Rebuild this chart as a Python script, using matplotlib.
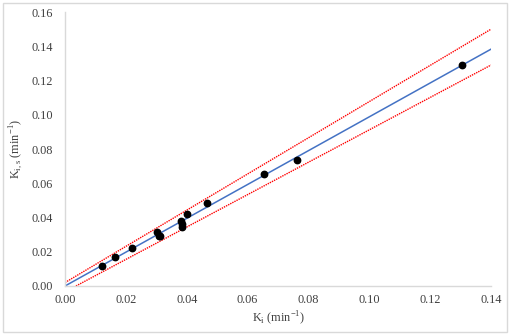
import numpy as np
import matplotlib
matplotlib.use("Agg")
import matplotlib.pyplot as plt
from matplotlib.patches import Rectangle

plt.rcParams['font.family'] = ['Liberation Serif', 'DejaVu Serif']
plt.rcParams['mathtext.fontset'] = 'custom'
plt.rcParams['mathtext.rm'] = 'Liberation Serif'

# measured vs. simulated rate constants
k_i = [0.0121, 0.0164, 0.0221, 0.0301, 0.0309, 0.0313, 0.0380, 0.0383,
       0.0383, 0.0402, 0.0465, 0.0655, 0.0763, 0.1306]
k_is = [0.0117, 0.0168, 0.0220, 0.0315, 0.0294, 0.0292, 0.0380, 0.0360,
        0.0346, 0.0420, 0.0486, 0.0656, 0.0734, 0.1289]

# fitted line and the two bounds (slope, intercept)
fit = (0.988, 0.0)
upper = (1.057, 0.002)
lower = (0.946, -0.0034)

x_ticks = [0.00, 0.02, 0.04, 0.06, 0.08, 0.10, 0.12, 0.14]
y_ticks = [0.00, 0.02, 0.04, 0.06, 0.08, 0.10, 0.12, 0.14, 0.16]

fig = plt.figure(figsize=(5.1, 3.35), dpi=100)
ax = fig.add_axes([0.1275, 0.1463, 0.8352, 0.8177])

xx = np.array([0.0, 0.14])
ax.plot(xx, fit[0] * xx + fit[1], color="#4472C4", linewidth=1.1, zorder=2)
ax.plot(xx, upper[0] * xx + upper[1], color="#FF0000", linewidth=1.0,
        linestyle=(0, (1.0, 0.7)), zorder=2)
x0 = -lower[1] / lower[0]
xl = np.array([x0, 0.14])
ax.plot(xl, lower[0] * xl + lower[1], color="#FF0000", linewidth=1.0,
        linestyle=(0, (1.0, 0.7)), zorder=2)

ax.plot(k_i, k_is, 'o', color="black", markersize=4.6, zorder=3)

ax.set_xlim(0, 0.14)
ax.set_ylim(0, 0.16)
ax.set_xticks(x_ticks)
ax.set_yticks(y_ticks)
ax.set_xticklabels(["%.2f" % v for v in x_ticks])
ax.set_yticklabels(["%.2f" % v for v in y_ticks])
ax.tick_params(length=0, labelsize=8.8, colors="#404040", pad=6)
ax.tick_params(axis='y', pad=9)

for s in ["top", "right"]:
    ax.spines[s].set_visible(False)
for s in ["left", "bottom"]:
    ax.spines[s].set_color("#D9D9D9")
    ax.spines[s].set_linewidth(1.0)

ax.set_xlabel(r"K$_{\mathregular{i}}$ (min$^{\mathregular{-1}}$)", fontsize=8.8,
              color="#404040", labelpad=2)
ax.set_ylabel(r"K$_{\mathregular{i,s}}$ (min$^{\mathregular{-1}}$)", fontsize=8.8,
              color="#404040", labelpad=4)

# light frame round the whole chart
fig.patches.append(Rectangle((0.006, 0.008), 0.988, 0.984, transform=fig.transFigure,
                             fill=False, edgecolor="#D9D9D9", linewidth=1.0))

plt.savefig("out.png", dpi=100)
plt.close()
